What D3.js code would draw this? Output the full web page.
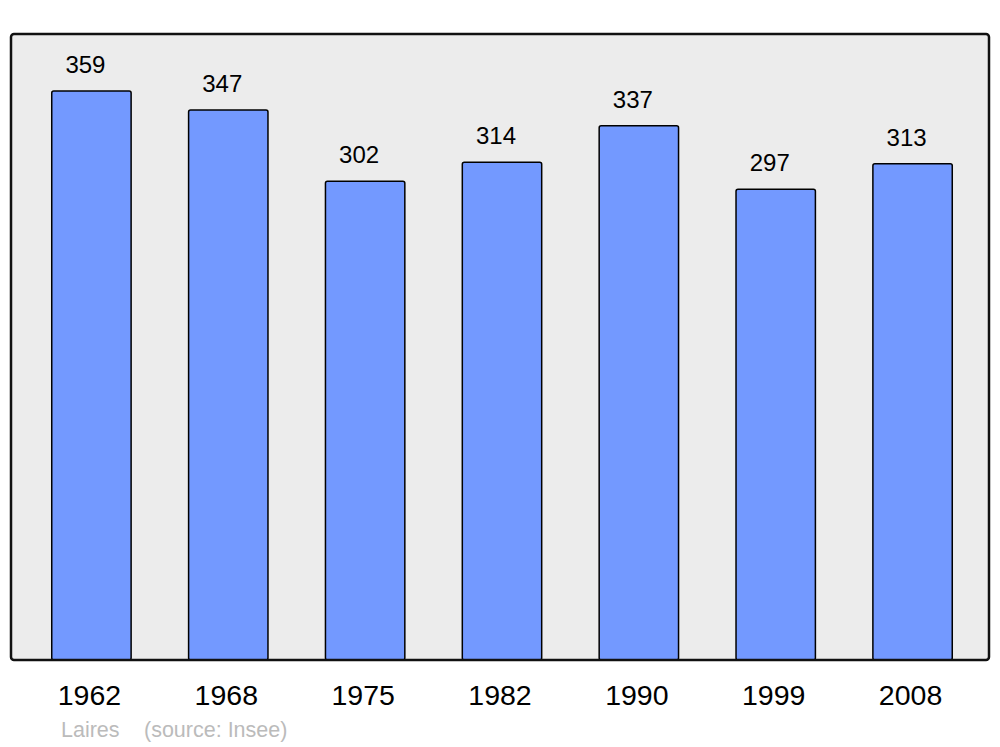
<!DOCTYPE html>
<html lang="en">
<head>
    <title>Laires population</title>
    <script src="https://d3js.org/d3.v7.min.js"></script>
    <style>
        body { margin: 0; background: #fff; }
        text { font-family: "Liberation Sans", Arial, sans-serif; }
    </style>
</head>
<body>
  <svg width=1000 height=747></svg>
    <script>
        const years = ["1962", "1968", "1975", "1982", "1990", "1999", "2008"];
        const population = [359, 347, 302, 314, 337, 297, 313];
        const townName = "Laires";
        const sourceNote = "(source: Insee)";

        const svg = d3.select("svg");
        const panelTop = 34, panelBottom = 660, panelLeft = 11, panelRight = 989;

        const x = d3.scaleBand()
            .domain(years)
            .range([23, 981])
            .paddingInner(0.42)
            .paddingOuter(0.21);

        const y = d3.scaleLinear()
            .domain([0, d3.max(population) * 1.1])
            .range([panelBottom, panelTop]);

        // panel
        svg.append("rect")
           .attr("x", panelLeft).attr("y", panelTop)
           .attr("width", panelRight - panelLeft).attr("height", panelBottom - panelTop)
           .attr("rx", 3)
           .attr("fill", "#ececec");

        // bars
        svg.selectAll("rect.bar")
           .data(population)
           .enter()
           .append("rect")
           .attr("class", "bar")
           .attr("x", (d, i) => x(years[i]))
           .attr("y", d => y(d))
           .attr("width", x.bandwidth())
           .attr("height", d => panelBottom - y(d))
           .attr("rx", 2)
           .attr("fill", "#7399ff")
           .attr("stroke", "#000")
           .attr("stroke-width", 1.5);

        // panel border on top
        svg.append("rect")
           .attr("x", panelLeft).attr("y", panelTop)
           .attr("width", panelRight - panelLeft).attr("height", panelBottom - panelTop)
           .attr("rx", 3)
           .attr("fill", "none")
           .attr("stroke", "#111")
           .attr("stroke-width", 2.5);

        // value labels
        svg.selectAll("text.val")
           .data(population)
           .enter()
           .append("text")
           .attr("class", "val")
           .attr("x", (d, i) => x(years[i]) + x.bandwidth() / 2 - 6)
           .attr("y", d => y(d) - 18)
           .attr("text-anchor", "middle")
           .attr("font-size", 24)
           .text(d => d);

        // year labels
        svg.selectAll("text.year")
           .data(years)
           .enter()
           .append("text")
           .attr("class", "year")
           .attr("x", d => x(d) + x.bandwidth() / 2 - 2)
           .attr("y", 705)
           .attr("text-anchor", "middle")
           .attr("font-size", 28.5)
           .text(d => d);

        svg.append("text")
           .attr("x", 61).attr("y", 737)
           .attr("font-size", 21.5).attr("fill", "#bbb")
           .text(townName);

        svg.append("text")
           .attr("x", 144).attr("y", 737)
           .attr("font-size", 21.5).attr("fill", "#bbb")
           .text(sourceNote);
    </script>
</body>
</html>
